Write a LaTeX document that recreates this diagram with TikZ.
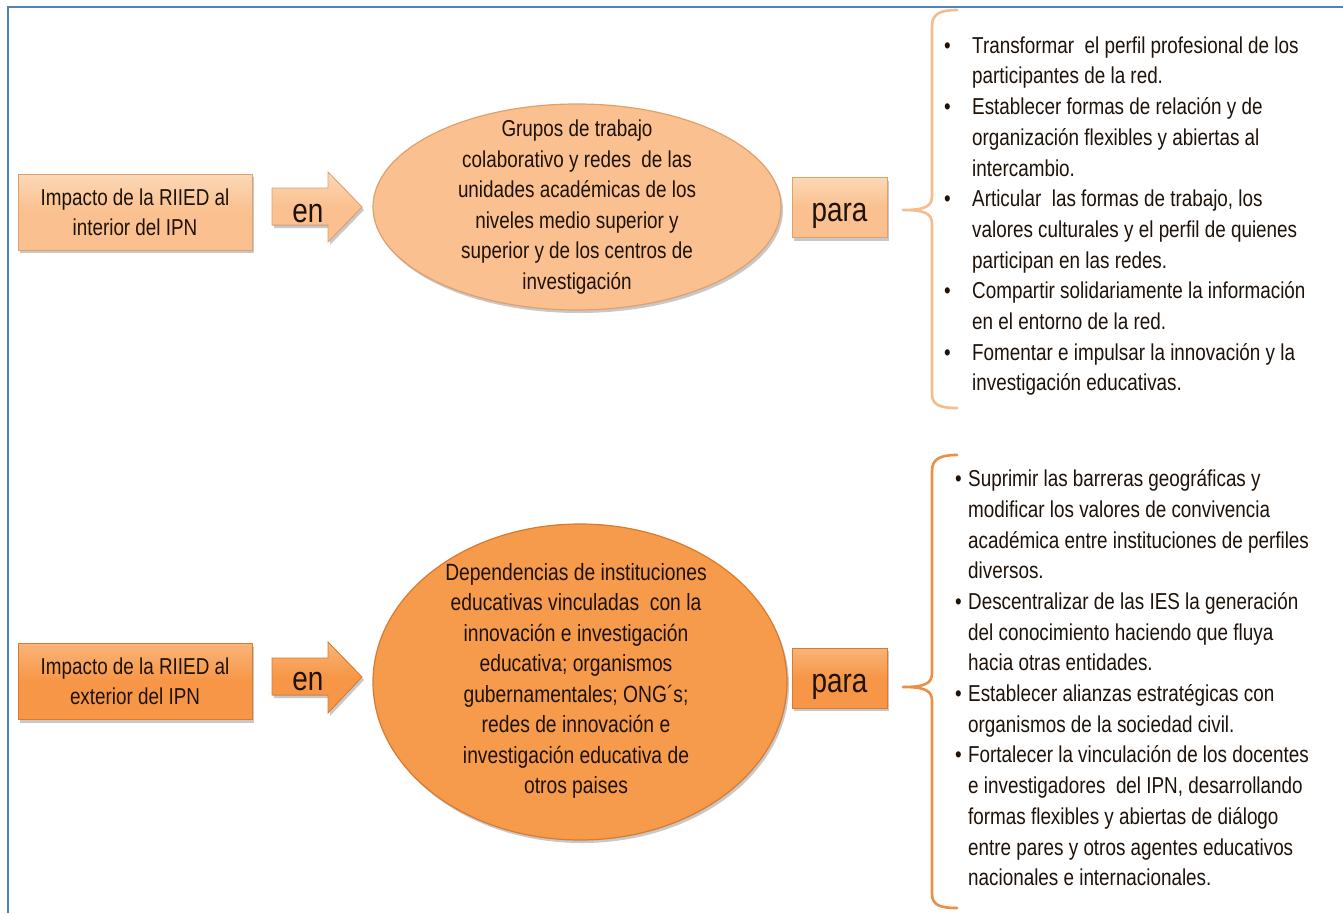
\documentclass[tikz,border=0pt]{standalone}
\usepackage{fontspec}
\setmainfont{Liberation Sans}[FakeStretch=0.82]
\usetikzlibrary{shadows,shapes.geometric}
\definecolor{framecol}{HTML}{4F81BD}
\definecolor{peach}{HTML}{FAC08F}
\definecolor{peachL}{HTML}{FCD8B6}
\definecolor{peachD}{HTML}{DFA06C}
\definecolor{orng}{HTML}{F79646}
\definecolor{orngL}{HTML}{F9B478}
\definecolor{orngD}{HTML}{D97A2E}
\definecolor{ell2}{HTML}{F69A4C}
\definecolor{brace1}{HTML}{F5BC8E}
\definecolor{brace2}{HTML}{EC8E44}
\definecolor{txt}{HTML}{1E1209}
\begin{document}
\begin{tikzpicture}[x=1pt,y=-1pt,
  frameline/.style={draw=framecol, line width=2pt},
  shad/.style={drop shadow={shadow xshift=2pt,shadow yshift=-3pt,opacity=0.3,fill=black!70}},
  boxbase/.style={rectangle, inner sep=0pt, align=center, text=txt, line width=0.8pt, shad},
  peachbox/.style={boxbase, top color=peachL, bottom color=peach, middle color=peach, draw=peachD},
  orngbox/.style={boxbase, top color=orngL, bottom color=orng, middle color=orng, draw=orngD},
  impbox/.style={minimum width=234pt, minimum height=76pt, font=\fontsize{23}{30}\selectfont},
  parabox/.style={minimum width=95pt, minimum height=60pt},
  biglabel/.style={font=\fontsize{34}{34}\selectfont, text=txt, inner sep=0pt},
  ellbase/.style={ellipse, inner sep=0pt, line width=1.2pt, shad},
  elltext/.style={align=center, text=txt, inner sep=0pt, font=\fontsize{23}{30.6}\selectfont},
  listtext/.style={anchor=west, inner sep=0pt, text=txt, font=\fontsize{23}{30.7}\selectfont},
  bracestyle/.style={line width=2.6pt, line cap=round, line join=round}
]
\useasboundingbox (0,0) rectangle (1343,913);
\fill[white] (0,0) rectangle (1343,913);
\draw[frameline] (1343,7) -- (8,7) -- (8,913);

% ---------- top row ----------
\node[peachbox, impbox] (imp1) at (135,212) {Impacto de la RIIED al\\interior del IPN};
\fill[top color=peachL, bottom color=peach, middle color=peach, draw=peachD, line width=0.8pt, shad]
  (272,188) -- (328,188) -- (328,172) -- (362,207) -- (328,242) -- (328,225) -- (272,225) -- cycle;
\node[biglabel, anchor=base] (en1) at (308,222) {en};
\node[ellbase, fill=peach, draw=peachD, minimum width=408pt, minimum height=206pt] (ell1) at (577,207) {};
\node[elltext] (ell1t) at (ell1.center) {Grupos de trabajo\\colaborativo y redes\ \ de las\\unidades académicas de los\\niveles medio superior y\\superior y de los centros de\\investigación};
\node[peachbox, parabox] (para1) at (839.5,207.5) {};
\node[biglabel, anchor=base] (para1t) at (839.5,221) {para};
\coordinate (br1) at (903,210);
\draw[bracestyle, draw=brace1] (957,10) .. controls (940,10) and (932,14) .. (932,26) -- (932,196)
  .. controls (932,206) and (926,210) .. (br1)
  .. controls (926,210) and (932,214) .. (932,224) -- (932,394)
  .. controls (932,405) and (940,408) .. (957,408);
\node[listtext] (list1) at (944,216) {\begin{tabular}{@{}p{28pt}@{}l@{}}
\textbullet & Transformar\ \ el perfil profesional de los\\
& participantes de la red.\\
\textbullet & Establecer formas de relación y de\\
& organización flexibles y abiertas al\\
& intercambio.\\
\textbullet & Articular\ \ las formas de trabajo, los\\
& valores culturales y el perfil de quienes\\
& participan en las redes.\\
\textbullet & Compartir solidariamente la información\\
& en el entorno de la red.\\
\textbullet & Fomentar e impulsar la innovación y la\\
& investigación educativas.
\end{tabular}};

% ---------- bottom row ----------
\node[orngbox, impbox] (imp2) at (135,681.5) {Impacto de la RIIED al\\exterior del IPN};
\fill[top color=orngL, bottom color=orng, middle color=orng, draw=orngD, line width=0.8pt, shad]
  (272,658) -- (328,658) -- (328,642) -- (362,677) -- (328,713) -- (328,695) -- (272,695) -- cycle;
\node[biglabel, anchor=base] (en2) at (308,690) {en};
\node[ellbase, fill=ell2, draw=orngD, minimum width=414pt, minimum height=316pt] (ell2) at (580,682) {};
\node[elltext, font=\fontsize{23.5}{30.5}\selectfont] (ell2t) at (576,681) {Dependencias de instituciones\\educativas vinculadas\ \ con la\\innovación e investigación\\educativa; organismos\\gubernamentales; ONG´s;\\redes de innovación e\\investigación educativa de\\otros paises};
\node[orngbox, parabox] (para2) at (839.5,678) {};
\node[biglabel, anchor=base] (para2t) at (839.5,692) {para};
\coordinate (br2) at (903,687);
\draw[bracestyle, draw=brace2] (957,455) .. controls (940,455) and (932,459) .. (932,471) -- (932,673)
  .. controls (932,683) and (926,687) .. (br2)
  .. controls (926,687) and (932,691) .. (932,701) -- (932,894)
  .. controls (932,905) and (940,908) .. (957,908);
\node[listtext] (list2) at (955,680) {\begin{tabular}{@{}p{13pt}@{}l@{}}
\textbullet & Suprimir las barreras geográficas y\\
& modificar los valores de convivencia\\
& académica entre instituciones de perfiles\\
& diversos.\\
\textbullet & Descentralizar de las IES la generación\\
& del conocimiento haciendo que fluya\\
& hacia otras entidades.\\
\textbullet & Establecer alianzas estratégicas con\\
& organismos de la sociedad civil.\\
\textbullet & Fortalecer la vinculación de los docentes\\
& e investigadores\ \ del IPN, desarrollando\\
& formas flexibles y abiertas de diálogo\\
& entre pares y otros agentes educativos\\
& nacionales e internacionales.
\end{tabular}};
\end{tikzpicture}
\end{document}
